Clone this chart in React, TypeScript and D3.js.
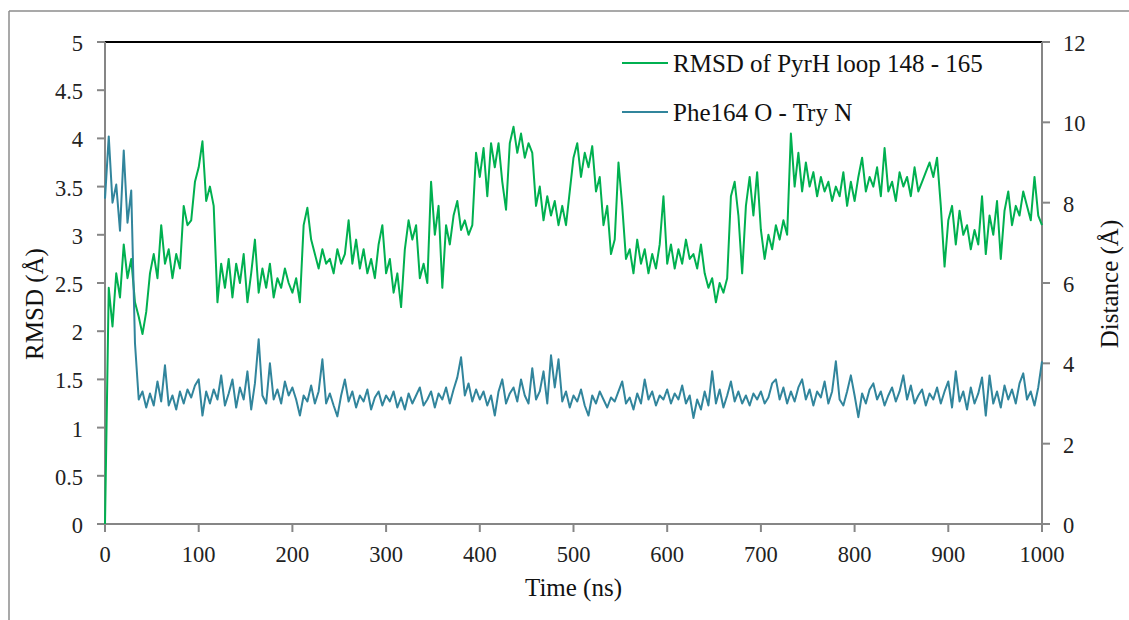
import * as d3 from 'd3';

// RMSD of PyrH loop 148-165 (Å), sampled every 4 ns from 0 to 1000 ns
const rmsdLoop = [
  0.0, 2.45, 2.05, 2.6, 2.35, 2.9, 2.55, 2.75, 2.3, 2.15, 1.97, 2.2, 2.6, 2.8, 2.55, 3.1, 2.7, 2.85, 2.55, 2.8, 2.65, 3.3, 3.1, 3.15, 3.55,
  3.7, 3.97, 3.35, 3.5, 3.3, 2.3, 2.7, 2.45, 2.75, 2.35, 2.7, 2.5, 2.8, 2.3, 2.6, 2.95, 2.4, 2.65, 2.45, 2.7, 2.35, 2.55, 2.45, 2.65, 2.5,
  2.4, 2.55, 2.3, 3.1, 3.28, 2.95, 2.8, 2.65, 2.85, 2.7, 2.75, 2.6, 2.85, 2.7, 2.8, 3.15, 2.7, 2.95, 2.65, 2.85, 2.6, 2.75, 2.55, 2.9, 3.1,
  2.6, 2.75, 2.4, 2.6, 2.25, 2.85, 3.15, 2.95, 3.1, 2.55, 2.7, 2.5, 3.55, 3.0, 3.3, 2.45, 3.1, 2.9, 3.2, 3.35, 3.05, 3.15, 3.0, 3.1, 3.85,
  3.6, 3.9, 3.4, 3.95, 3.7, 3.95, 3.55, 3.26, 3.95, 4.12, 3.85, 4.05, 3.8, 3.95, 3.85, 3.3, 3.5, 3.15, 3.4, 3.2, 3.35, 3.1, 3.3, 3.1, 3.45,
  3.8, 3.95, 3.6, 3.85, 3.7, 3.92, 3.45, 3.6, 3.1, 3.3, 2.8, 2.95, 3.75, 3.3, 2.75, 2.85, 2.6, 2.95, 2.7, 2.85, 2.6, 2.8, 2.65, 2.9, 3.4,
  2.7, 2.9, 2.65, 2.85, 2.7, 2.95, 2.75, 2.8, 2.65, 2.9, 2.6, 2.45, 2.55, 2.3, 2.5, 2.4, 2.55, 3.4, 3.55, 3.2, 2.6, 3.3, 3.6, 3.2, 3.65,
  3.05, 2.75, 3.0, 2.85, 3.1, 2.95, 3.15, 3.0, 4.05, 3.5, 3.85, 3.45, 3.75, 3.5, 3.65, 3.4, 3.6, 3.45, 3.55, 3.35, 3.5, 3.4, 3.65, 3.3, 3.55,
  3.35, 3.6, 3.8, 3.45, 3.6, 3.5, 3.7, 3.4, 3.9, 3.45, 3.55, 3.35, 3.65, 3.5, 3.6, 3.4, 3.7, 3.45, 3.55, 3.65, 3.75, 3.6, 3.8, 3.3, 2.67,
  3.15, 3.3, 2.9, 3.25, 3.0, 3.1, 2.85, 3.05, 2.9, 3.4, 2.8, 3.2, 3.0, 3.35, 2.75, 3.25, 3.45, 3.1, 3.3, 3.2, 3.45, 3.3, 3.15, 3.6, 3.2,
  3.1,
];

// Phe164 O - Try N distance (Å), sampled every 4 ns from 0 to 1000 ns
const distPhe = [
  8.1, 9.65, 8.0, 8.45, 7.3, 9.3, 7.5, 8.3, 4.5, 3.1, 3.3, 2.9, 3.25, 2.95, 3.55, 3.05, 3.95, 2.95, 3.2, 2.85, 3.3, 3.0, 3.35, 3.15, 3.45,
  3.6, 2.7, 3.3, 3.0, 3.35, 3.1, 3.7, 2.95, 3.25, 3.6, 2.9, 3.4, 3.1, 3.8, 2.85, 3.5, 4.6, 3.2, 3.0, 4.0, 3.1, 3.35, 3.0, 3.55, 3.2,
  3.4, 3.1, 2.7, 3.2, 3.05, 3.45, 3.0, 3.3, 4.1, 3.0, 3.25, 2.95, 2.68, 3.2, 3.6, 3.05, 3.3, 2.9, 3.2, 3.05, 3.35, 2.85, 3.15, 3.3, 2.95,
  3.2, 3.05, 3.3, 2.9, 3.15, 2.85, 3.25, 3.0, 3.2, 3.4, 2.95, 3.1, 3.3, 2.9, 3.25, 3.1, 3.4, 3.0, 3.35, 3.65, 4.15, 3.2, 3.5, 3.05, 3.35,
  3.1, 3.3, 2.95, 3.2, 2.7, 3.3, 3.6, 3.0, 3.25, 3.4, 3.05, 3.6, 3.2, 3.0, 3.88, 3.1, 3.3, 3.8, 3.0, 4.2, 3.4, 4.1, 3.05, 3.3, 2.9,
  3.2, 3.05, 3.35, 2.95, 2.7, 3.2, 3.0, 3.3, 3.1, 2.9, 3.15, 3.05, 3.3, 3.55, 3.0, 3.15, 2.85, 3.25, 3.0, 3.6, 3.1, 3.3, 2.95, 3.2, 3.1,
  3.35, 3.0, 3.25, 3.1, 3.45, 3.0, 3.2, 2.64, 3.1, 2.85, 3.3, 2.95, 3.8, 3.0, 3.35, 2.9, 3.2, 3.55, 3.05, 3.3, 3.0, 3.2, 2.95, 3.25, 3.1,
  3.3, 3.0, 3.15, 3.5, 3.6, 3.1, 3.4, 3.0, 3.3, 3.05, 3.4, 3.6, 3.1, 3.35, 2.95, 3.3, 3.15, 3.55, 3.0, 3.3, 4.05, 3.1, 2.95, 3.3, 3.7,
  3.2, 2.66, 3.25, 3.0, 3.35, 3.5, 3.1, 3.3, 2.95, 3.2, 3.4, 3.05, 3.3, 3.7, 3.1, 3.45, 3.0, 3.2, 3.35, 2.95, 3.25, 3.1, 3.4, 3.0, 3.3,
  3.55, 2.9, 3.8, 3.05, 3.3, 2.85, 3.4, 3.0, 3.25, 3.65, 2.7, 3.7, 3.0, 3.3, 2.9, 3.45, 3.1, 3.35, 3.0, 3.5, 3.75, 3.1, 3.3, 2.95, 3.4,
  4.05,
];

const timeNs = rmsdLoop.map((_, i) => i * 4);

const xTicks = [0, 100, 200, 300, 400, 500, 600, 700, 800, 900, 1000];
const leftTicks = [0, 0.5, 1, 1.5, 2, 2.5, 3, 3.5, 4, 4.5, 5];
const rightTicks = [0, 2, 4, 6, 8, 10, 12];

const seriesNames = ['RMSD of PyrH loop 148 - 165', 'Phe164 O - Try N'];
const seriesColors = ['#00b050', '#31859c'];

export default function App() {
  const width = 1129;
  const height = 620;
  const margin = { top: 42, right: 87, bottom: 96, left: 105 };
  const innerRight = width - margin.right;
  const innerBottom = height - margin.bottom;

  const x = d3.scaleLinear().domain([0, 1000]).range([margin.left, innerRight]);
  const yLeft = d3.scaleLinear().domain([0, 5]).range([innerBottom, margin.top]);
  const yRight = d3.scaleLinear().domain([0, 12]).range([innerBottom, margin.top]);

  const lineLeft = d3.line<number>()
    .x((_, i) => x(timeNs[i]))
    .y(d => yLeft(d));
  const lineRight = d3.line<number>()
    .x((_, i) => x(timeNs[i]))
    .y(d => yRight(d));

  const axisColor = '#868686';
  const font = '"Liberation Serif", "Times New Roman", serif';
  const tickSize = 22.5;
  const titleSize = 25;

  return (
    <div style={{ position: 'absolute', left: 0, top: 0 }}>
      <svg width={width} height={height} style={{ display: 'block', fontFamily: font }}>
        <rect x={0} y={0} width={width} height={height} fill="#fff" />
        {/* outer frame (only top and left edges visible) */}
        <line x1={9} x2={width} y1={11} y2={11} stroke="#8c8c8c" strokeWidth={1.5} />
        <line x1={9} x2={9} y1={11} y2={height} stroke="#8c8c8c" strokeWidth={1.5} />

        {/* top border of plot */}
        <line x1={margin.left} x2={innerRight} y1={margin.top} y2={margin.top} stroke="#000" strokeWidth={2} />

        {/* left axis */}
        <line x1={margin.left} x2={margin.left} y1={margin.top} y2={innerBottom} stroke={axisColor} strokeWidth={2} />
        {leftTicks.map(t => (
          <g key={'l' + t}>
            <line x1={margin.left - 8} x2={margin.left} y1={yLeft(t)} y2={yLeft(t)} stroke={axisColor} strokeWidth={2} />
            <text x={83} y={yLeft(t) + 9} textAnchor="end" fontSize={tickSize} fill="#222">{t}</text>
          </g>
        ))}

        {/* right axis */}
        <line x1={innerRight} x2={innerRight} y1={margin.top} y2={innerBottom} stroke={axisColor} strokeWidth={2} />
        {rightTicks.map(t => (
          <g key={'r' + t}>
            <line x1={innerRight} x2={innerRight + 8} y1={yRight(t)} y2={yRight(t)} stroke={axisColor} strokeWidth={2} />
            <text x={1063} y={yRight(t) + 9} textAnchor="start" fontSize={tickSize} fill="#222">{t}</text>
          </g>
        ))}

        {/* bottom axis */}
        <line x1={margin.left - 8} x2={innerRight + 8} y1={innerBottom} y2={innerBottom} stroke={axisColor} strokeWidth={2} />
        {xTicks.map(t => (
          <g key={'x' + t}>
            <line x1={x(t)} x2={x(t)} y1={innerBottom} y2={innerBottom + 8} stroke={axisColor} strokeWidth={2} />
            <text x={x(t)} y={innerBottom + 38} textAnchor="middle" fontSize={tickSize} fill="#222">{t}</text>
          </g>
        ))}

        {/* series */}
        <path d={lineLeft(rmsdLoop) || ''} fill="none" stroke={seriesColors[0]} strokeWidth={2} strokeLinejoin="round" />
        <path d={lineRight(distPhe) || ''} fill="none" stroke={seriesColors[1]} strokeWidth={2} strokeLinejoin="round" />

        {/* axis titles */}
        <text x={(margin.left + innerRight) / 2} y={596} textAnchor="middle" fontSize={titleSize} fill="#111">Time (ns)</text>
        <text transform="translate(43,304) rotate(-90)" textAnchor="middle" fontSize={titleSize} fill="#111">RMSD (Å)</text>
        <text transform="translate(1118,284) rotate(-90)" textAnchor="middle" fontSize={titleSize} fill="#111">Distance (Å)</text>

        {/* legend */}
        {seriesNames.map((name, i) => (
          <g key={name} transform={`translate(622,${63 + i * 49})`}>
            <line x1={0} x2={46} y1={0} y2={0} stroke={seriesColors[i]} strokeWidth={2} />
            <text x={51} y={9} fontSize={titleSize} fill="#111">{name}</text>
          </g>
        ))}
      </svg>
    </div>
  );
}
